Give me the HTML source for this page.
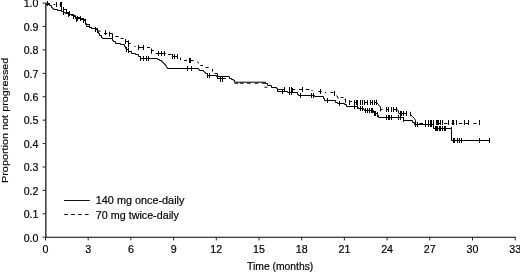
<!DOCTYPE html>
<html><head><meta charset="utf-8"><title>KM</title>
<style>
html,body{margin:0;padding:0;background:#fff;}
body{width:520px;height:273px;overflow:hidden;position:relative;}
svg{position:absolute;left:0;top:0;display:block;will-change:transform;}
text{font-family:"Liberation Sans",sans-serif;font-size:10.0px;fill:#000;stroke:#000;stroke-width:0.18px;}
</style></head><body>
<svg width="520" height="273" viewBox="0 0 520 273">
<rect width="520" height="273" fill="#fff"/>

<g stroke="#222" stroke-width="1" fill="none">
<path d="M45.85 2.6V237.7" stroke="#111" stroke-width="1.25"/><path d="M45.2 237.30H515.7" stroke="#000" stroke-width="1.05"/>
<path d="M42.6 237.20H45.5M42.6 213.79H45.5M42.6 190.38H45.5M42.6 166.97H45.5M42.6 143.56H45.5M42.6 120.15H45.5M42.6 96.74H45.5M42.6 73.33H45.5M42.6 49.92H45.5M42.6 26.51H45.5M42.6 3.10H45.5M45.50 237.2V240.40M88.20 237.2V240.40M130.90 237.2V240.40M173.60 237.2V240.40M216.30 237.2V240.40M259.00 237.2V240.40M301.69 237.2V240.40M344.39 237.2V240.40M387.09 237.2V240.40M429.79 237.2V240.40M472.49 237.2V240.40M515.19 237.2V240.40"/>
</g>
<text transform="translate(38.5,241.5) scale(1.067,1)" text-anchor="end">0.0</text>
<text transform="translate(38.5,218.09) scale(1.067,1)" text-anchor="end">0.1</text>
<text transform="translate(38.5,194.68) scale(1.067,1)" text-anchor="end">0.2</text>
<text transform="translate(38.5,171.27) scale(1.067,1)" text-anchor="end">0.3</text>
<text transform="translate(38.5,147.86) scale(1.067,1)" text-anchor="end">0.4</text>
<text transform="translate(38.5,124.45) scale(1.067,1)" text-anchor="end">0.5</text>
<text transform="translate(38.5,101.04) scale(1.067,1)" text-anchor="end">0.6</text>
<text transform="translate(38.5,77.63) scale(1.067,1)" text-anchor="end">0.7</text>
<text transform="translate(38.5,54.22) scale(1.067,1)" text-anchor="end">0.8</text>
<text transform="translate(38.5,30.81) scale(1.067,1)" text-anchor="end">0.9</text>
<text transform="translate(38.5,7.4) scale(1.067,1)" text-anchor="end">1.0</text>
<text transform="translate(45.5,252.7) scale(1.067,1)" text-anchor="middle">0</text>
<text transform="translate(88.2,252.7) scale(1.067,1)" text-anchor="middle">3</text>
<text transform="translate(130.9,252.7) scale(1.067,1)" text-anchor="middle">6</text>
<text transform="translate(173.6,252.7) scale(1.067,1)" text-anchor="middle">9</text>
<text transform="translate(216.3,252.7) scale(1.067,1)" text-anchor="middle">12</text>
<text transform="translate(259.0,252.7) scale(1.067,1)" text-anchor="middle">15</text>
<text transform="translate(301.69,252.7) scale(1.067,1)" text-anchor="middle">18</text>
<text transform="translate(344.39,252.7) scale(1.067,1)" text-anchor="middle">21</text>
<text transform="translate(387.09,252.7) scale(1.067,1)" text-anchor="middle">24</text>
<text transform="translate(429.79,252.7) scale(1.067,1)" text-anchor="middle">27</text>
<text transform="translate(472.49,252.7) scale(1.067,1)" text-anchor="middle">30</text>
<text transform="translate(515.19,252.7) scale(1.067,1)" text-anchor="middle">33</text>
<text transform="translate(280.2,270.4) scale(1.035,1)" text-anchor="middle">Time (months)</text>
<text transform="translate(8.0,120.3) rotate(-90) scale(1.12,1)" text-anchor="middle" style="font-size:9.7px;stroke-width:0.12px">Proportion not progressed</text>
<g stroke="#111" stroke-width="1" fill="none">
<path d="M64 200.5H89.8"/>
<path d="M64.2 214.5H88.7" stroke-dasharray="3.7 3.2"/>
</g>
<text transform="translate(95.8,204.1) scale(1.085,1)" text-anchor="start">140 mg once-daily</text>
<text transform="translate(95.8,218.9) scale(1.075,1)" text-anchor="start">70 mg twice-daily</text>
<g stroke="#000" stroke-width="1" fill="none" stroke-linejoin="miter">
<path d="M46.5 3.5H49.5V5.5H51.5V7.5H52.5V8.5H53.5V9.5H57.5V10.5H61.5V11.5H63.5V12.5H65.5V13.5H68.5V14.5H71.5V15.5H73.5V16.5H75.5V18.5H77.5V18.5H80.5V19.5H83.5V20.5H85.5V23.5H86.5V26.5H89.5V27.5H91.5V28.5H96.5V29.5H97.5V31.5H98.5V33.5H99.5V35.5H101.5V37.5H102.5V38.5H112.5V40.5H113.5V41.5H115.5V43.5H120.5V44.5H122.5V44.5H124.5V46.5H125.5V48.5H126.5V49.5H128.5V51.5H131.5V53.5H135.5V54.5H138.5V56.5H140.5V58.5H157.5V59.5H159.5V60.5H161.5V61.5H162.5V62.5H163.5V63.5H164.5V64.5H165.5V65.5H166.5V66.5H166.5V67.5H167.5V68.5H198.5V69.5H199.5V70.5H203.5V71.5H204.5V72.5H205.5V73.5H207.5V75.5H216.5V76.5H229.5V78.5H231.5V79.5H233.5V80.5H234.5V82.2H265.5V83.5H267.5V85.5H271.5V87.5H276.5V88.5H277.5V91.5H287.5V92.5H297.5V94.5H298.5V95.5H314.5V96.5H323.5V98.5H324.5V100.5H335.5V102.5H337.5V103.5H344.5V104.5H346.5V106.5H357.5V107.5H358.5V108.5H363.5V109.5H364.5V110.5H373.5V112.5H374.5V113.5H377.5V115.5H378.5V117.5H403.5V120.5H412.5V122.5H414.5V124.5H433.5V128.5H451.5V140.5H489.5"/>
<path d="M47.5 1.00V6.00M63.5 10.00V15.00M68.5 12.00V17.00M73.5 14.00V19.00M77.5 16.00V21.00M83.5 18.00V23.00M85.5 19.00V24.00M95.5 27.00V32.00M97.5 28.00V33.00M126.5 47.00V52.00M128.5 48.00V53.00M140.5 56.00V61.00M143.5 56.00V61.00M146.5 56.00V61.00M148.5 56.00V61.00M187.5 66.00V71.00M191.5 66.00V71.00M207.5 73.00V78.00M209.5 73.00V78.00M217.5 74.00V79.00M282.5 89.00V94.00M289.5 90.00V95.00M291.5 90.00V95.00M300.5 93.00V98.00M311.5 93.00V98.00M313.5 93.00V98.00M327.5 98.00V103.00M339.5 101.00V106.00M354.5 104.00V109.00M357.5 104.00V109.00M360.5 106.00V111.00M362.5 106.00V111.00M365.5 108.00V113.00M367.5 108.00V113.00M369.5 108.00V113.00M371.5 108.00V113.00M372.5 108.00V113.00M374.5 111.00V116.00M375.5 111.00V116.00M377.5 112.00V117.00M386.5 115.00V120.00M388.5 115.00V120.00M389.5 115.00V120.00M391.5 115.00V120.00M398.5 115.00V120.00M400.5 115.00V120.00M403.5 117.00V122.00M415.5 122.00V127.00M417.5 122.00V127.00M425.5 122.00V127.00M428.5 122.00V127.00M430.5 122.00V127.00M431.5 122.00V127.00M433.5 123.00V128.00M435.5 126.00V131.00M436.5 126.00V131.00M437.5 126.00V131.00M439.5 126.00V131.00M440.5 126.00V131.00M442.5 126.00V131.00M444.5 126.00V131.00M445.5 126.00V131.00M451.5 127.00V132.00M453.5 138.00V143.00M454.5 138.00V143.00M457.5 138.00V143.00M459.5 138.00V143.00M461.5 138.00V143.00M479.5 138.00V143.00M489.5 138.00V143.00"/>
<path d="M46.00 4.5H49.00M53.50 4.5H55.20M59.50 4.5H61.70M61.5 6.80V10.50M63.70 9.5H66.30M66.5 9.00V12.90M66.30 12.5H68.40M68.5 12.40V13.40M68.40 13.5H69.90M69.5 13.40V14.40M69.90 14.5H73.30M73.5 14.40V15.60M73.30 15.5H75.50M75.5 15.60V17.00M75.50 17.5H77.60M77.5 17.00V17.80M77.60 17.5H80.50M80.5 17.80V18.60M80.50 18.5H83.80M83.5 18.60V19.80M83.80 19.5H85.40M85.5 19.80V24.30M85.40 24.5H89.50M89.5 24.30V27.60M89.50 27.5H91.60M91.5 27.60V28.00M91.60 28.5H95.30M95.5 28.00V29.00M95.30 29.5H97.50M97.5 29.5L98.5 30.5M98.5 30.5L100.5 31.5M104.00 33.5H107.30M109.5 31.70V36.50M109.30 33.5H112.40M112.5 33.60V38.30M115.30 36.5H118.70M120.60 38.5H123.50M125.40 41.5H128.50M128.5 40.30V47.50M128.50 43.5H130.70M134.50 46.5H135.60M138.70 47.5H143.40M147.00 47.5H149.90M151.5 48.50V53.80M151.30 50.5H153.70M155.70 53.5H158.00M158.50 53.5H165.70M168.20 54.5H171.50M172.50 56.5H177.10M180.5 57.50V60.30M184.00 60.5H187.00M189.30 60.5H193.70M197.5 61.5L198.5 63.5M200.30 65.5H203.00M205.60 67.5H208.50M212.5 69.00V71.50M214.70 73.5H217.00M217.5 73.40V79.00M217.50 78.5H225.80M234.40 83.2H238.10M239.90 83.2H243.60M247.00 83.2H250.70M254.70 83.2H258.40M261.90 83.2H265.60M264.40 87.2H267.40M277.50 89.5H284.70M292.80 89.5H295.20M299.00 89.5H302.40M305.80 89.5H309.20M311.50 90.5H312.60M318.30 91.5H321.70M325.00 92.5H326.20M330.50 92.5H333.40M336.5 95.5L338.5 98.5M340.60 97.5H343.50M344.50 99.5H345.90M345.5 98.50V102.80M349.25 101.5H352.00M354.50 102.5H357.40M364.30 102.5H367.20M370.60 102.5H372.30M374.40 102.5H376.80M376.5 99.80V105.00M376.5 102.5L378.5 104.5M378.5 104.5L379.5 106.5M380.5 106.50V111.30M380.40 109.5H382.60M386.90 109.5H388.40M393.20 109.5H396.50M396.5 109.5L398.5 110.5M398.5 110.80V113.20M398.70 113.5H406.65M410.5 111.80V116.10M410.5 114.5L412.5 116.5M412.5 116.5L414.5 118.5M414.5 118.5L415.5 120.5M415.5 120.40V123.30M419.50 123.5H423.00M436.50 123.5H440.40M444.20 123.5H447.40M451.50 123.5H454.50M459.00 123.5H462.30M465.50 123.5H468.80M473.40 123.5H476.60"/>
<path d="M56.5 2.00V7.00M60.5 2.00V7.00M61.5 2.00V7.00M63.5 7.00V12.00M69.5 11.00V16.00M80.5 16.00V21.00M76.5 17.00V22.00M105.5 30.00V35.00M125.5 39.00V44.00M138.5 45.00V50.00M143.5 45.00V50.00M158.5 51.00V56.00M161.5 51.00V56.00M164.5 51.00V56.00M172.5 54.00V59.00M174.5 54.00V59.00M177.5 54.00V59.00M189.5 58.00V63.00M190.5 58.00V63.00M220.5 77.00V82.00M222.5 77.00V82.00M284.5 87.00V92.00M289.5 87.00V92.00M291.5 87.00V92.00M292.5 88.00V93.00M302.5 87.00V92.00M320.5 89.00V94.00M334.5 91.00V96.00M349.5 100.00V105.00M354.5 100.00V105.00M356.5 100.00V105.00M357.5 100.00V105.00M360.5 100.00V105.00M362.5 100.00V105.00M364.5 100.00V105.00M367.5 100.00V105.00M370.5 100.00V105.00M372.5 100.00V105.00M374.5 100.00V105.00M386.5 107.00V112.00M388.5 107.00V112.00M391.5 107.00V112.00M393.5 107.00V112.00M396.5 107.00V112.00M400.5 111.00V116.00M401.5 111.00V116.00M403.5 111.00V116.00M406.5 111.00V116.00M425.5 120.00V125.00M428.5 120.00V125.00M430.5 120.00V125.00M431.5 120.00V125.00M433.5 120.00V125.00M436.5 120.00V125.00M437.5 120.00V125.00M438.5 120.00V125.00M440.5 120.00V125.00M442.5 120.00V125.00M448.5 120.00V125.00M452.5 120.00V125.00M453.5 120.00V125.00M456.5 120.00V125.00M464.5 120.00V125.00M468.5 120.00V125.00M479.5 120.00V125.00"/>
</g>
</svg></body></html>
